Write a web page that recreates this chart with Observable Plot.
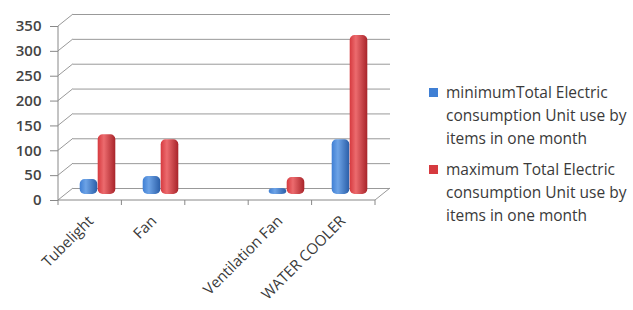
<!DOCTYPE html>
<html>
<head>
<meta charset="utf-8">
<script src="https://cdn.jsdelivr.net/npm/d3@7"></script>
<script src="https://cdn.jsdelivr.net/npm/@observablehq/plot@0.6"></script>
<style>
  html, body { margin: 0; padding: 0; background: #fff; }
  #wrap { position: relative; width: 633px; height: 310px; font-family: "Open Sans", sans-serif; }
  #chart { position: absolute; left: 0; top: 0; }
  #legend { position: absolute; left: 429px; top: 81px; color: #3a3a3a; font-size: 15.5px; line-height: 23px; }
  .item { position: relative; padding-left: 17px; margin-bottom: 8px; width: 190px; }
  .sw { position: absolute; left: 0; top: 7px; width: 9px; height: 9px; }
</style>
</head>
<body>
<div id="wrap"><div id="chart"></div><div id="legend"></div></div>
<script>
const categories = ["Tubelight", "Fan", " ", "Ventilation Fan", "WATER COOLER"];
const minValues = [30, 36, null, 12, 110];
const maxValues = [120, 110, null, 34, 320];
const yTicks = [0, 50, 100, 150, 200, 250, 300, 350];
const seriesNames = [
  "minimumTotal Electric consumption Unit use by items in one month",
  "maximum Total Electric consumption Unit use by items in one month"
];
const seriesColors = ["#3f7fd4", "#d63a3f"];

const W = 400, H = 310, ML = 58, MR = 25, MT = 26, MB = 110;
const depthX = 15, depthY = -12;
const bw = (W - ML - MR) / categories.length;
const barW = 18;
const inset = (bw - barW) / 2;

const minData = categories.map((c, i) => ({cat: c, v: minValues[i]})).filter(d => d.v != null);
const maxData = categories.map((c, i) => ({cat: c, v: maxValues[i]})).filter(d => d.v != null);

function walls(index, scales, values, dims) {
  const g = d3.create("svg:g").attr("stroke", "#999").attr("fill", "none").attr("stroke-width", 1);
  const x0 = dims.marginLeft, x1 = dims.width - dims.marginRight;
  const y0 = scales.y(0), yTop = scales.y(350);
  for (const t of yTicks) {
    const yy = scales.y(t);
    g.append("line").attr("x1", x0).attr("y1", yy).attr("x2", x0 + depthX).attr("y2", yy + depthY);
  }
  g.append("line").attr("x1", x1).attr("y1", y0).attr("x2", x1 + depthX).attr("y2", y0 + depthY);
  g.append("line").attr("x1", x0).attr("y1", yTop).attr("x2", x0).attr("y2", y0).attr("stroke", "#888");
  g.append("line").attr("x1", x0).attr("y1", y0).attr("x2", x1).attr("y2", y0).attr("stroke", "#888");
  for (let i = 0; i <= categories.length; i++) {
    const xx = x0 + i * (x1 - x0) / categories.length;
    g.append("line").attr("x1", xx).attr("y1", y0).attr("x2", xx).attr("y2", y0 + 5).attr("stroke", "#888");
  }
  return g.node();
}

const chart = Plot.plot({
  width: W, height: H,
  marginLeft: ML, marginRight: MR, marginTop: MT, marginBottom: MB,
  style: {fontFamily: "Open Sans, sans-serif", background: "transparent"},
  x: {domain: categories, padding: 0},
  y: {domain: [0, 350]},
  marks: [
    Plot.ruleY(yTicks, {y: d => d, dx: depthX, dy: depthY, stroke: "#999", strokeWidth: 1}),
    walls,
    Plot.barY(minData, {x: "cat", y: "v", fill: "url(#gBlue)", insetLeft: inset, insetRight: inset, dx: -barW / 2 + 7, dy: -6, rx: 5}),
    Plot.barY(maxData, {x: "cat", y: "v", fill: "url(#gRed)", insetLeft: inset, insetRight: inset, dx: barW / 2 + 7, dy: -6, rx: 5}),
    Plot.axisY(yTicks, {tickSize: 8, tickPadding: 9, fontSize: 15, fontWeight: 600, fill: "#444", stroke: "#888", label: null}),
    Plot.axisX({tickRotate: -45, tickSize: 0, tickPadding: 18, fontSize: 15, fill: "#3a3a3a", label: null})
  ]
});

const defs = d3.select(chart).insert("defs", ":first-child");
function grad(id, light, mid, dark) {
  const lg = defs.append("linearGradient").attr("id", id).attr("x1", "0").attr("x2", "1").attr("y1", "0").attr("y2", "0");
  lg.append("stop").attr("offset", "0%").attr("stop-color", mid);
  lg.append("stop").attr("offset", "35%").attr("stop-color", light);
  lg.append("stop").attr("offset", "100%").attr("stop-color", dark);
}
grad("gBlue", "#6da3e6", "#3f7fd4", "#2a5ea8");
grad("gRed", "#ec6b6e", "#d63a3f", "#a8242a");

document.getElementById("chart").appendChild(chart);

const legend = d3.select("#legend");
seriesNames.forEach((name, i) => {
  const it = legend.append("div").attr("class", "item");
  it.append("div").attr("class", "sw").style("background", seriesColors[i]);
  it.append("span").text(name);
});
</script>
</body>
</html>
